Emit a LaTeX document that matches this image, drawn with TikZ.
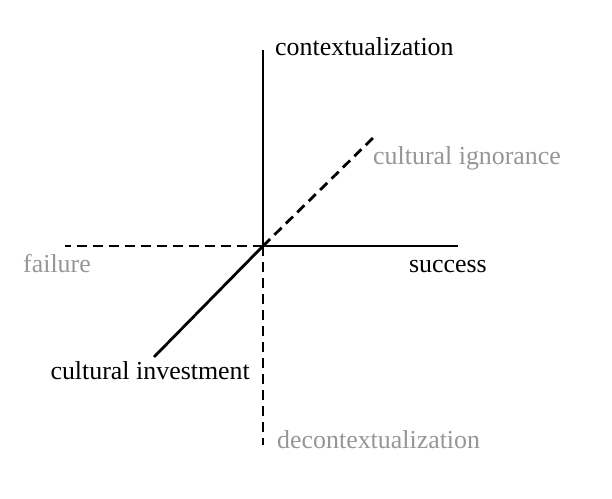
\documentclass[tikz,border=0pt]{standalone}
\usepackage{fontspec}
\setmainfont{Liberation Serif}
\definecolor{lbl}{RGB}{150,150,150}
\begin{document}
\begin{tikzpicture}[x=1bp,y=-1bp,
  axis/.style={line width=2.8bp},
  dashaxis/.style={line width=2.8bp,dash pattern=on 10bp off 6bp},
  lab/.style={inner sep=0pt,font=\fontsize{26}{30}\selectfont},
  glab/.style={lab,text=lbl}]
\useasboundingbox (0,0) rectangle (612,499);
\coordinate (o) at (263,246);
\coordinate (top) at (263,50);
\coordinate (bot) at (263,445);
\coordinate (lft) at (65,246);
\coordinate (rgt) at (458,246);
\coordinate (ne) at (377,134);
\coordinate (sw) at (154,357);
\draw[axis] (o) -- (top);
\draw[dashaxis] (o) -- (bot);
\draw[dashaxis] (o) -- (lft);
\draw[axis] (o) -- (rgt);
\draw[dashaxis] (o) -- (ne);
\draw[axis] (o) -- (sw);
\node[lab,anchor=base west] (ctx) at (275,56) {contextualization};
\node[glab,anchor=base west] (ign) at (373,165) {cultural ignorance};
\node[lab,anchor=base east] (suc) at (487,272) {success};
\node[glab,anchor=base west] (fail) at (23,272) {failure};
\node[lab,anchor=base east] (inv) at (250,379) {cultural investment};
\node[glab,anchor=base west] (dctx) at (277,448) {decontextualization};
\end{tikzpicture}
\end{document}
